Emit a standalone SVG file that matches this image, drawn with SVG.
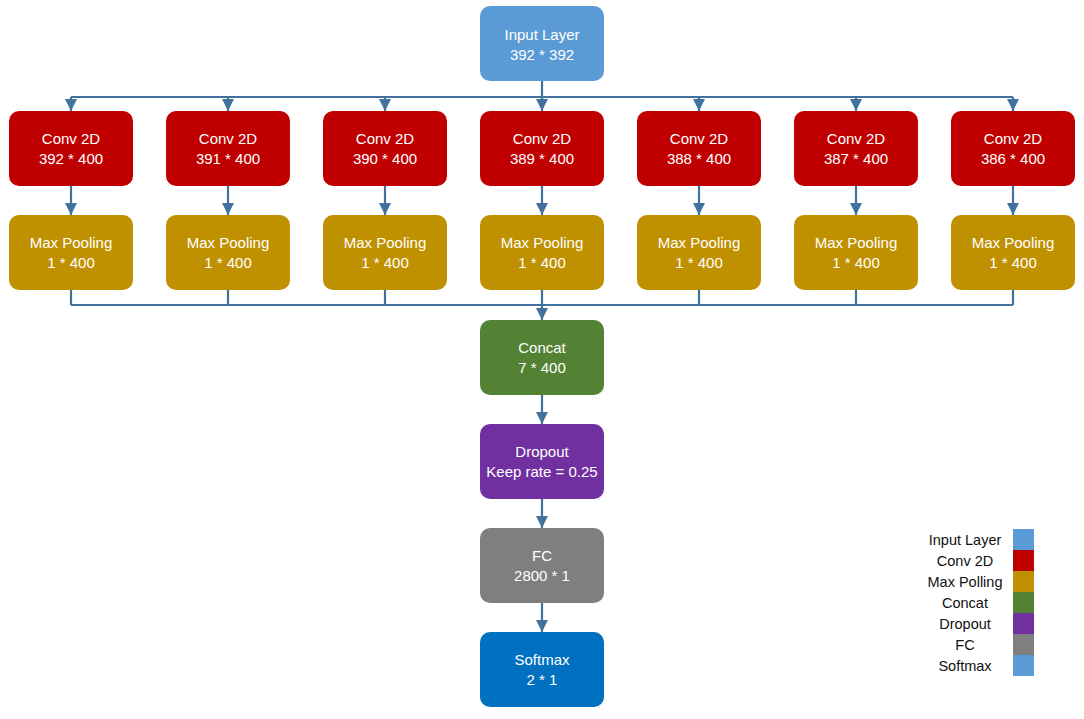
<svg xmlns="http://www.w3.org/2000/svg" width="1084" height="719" viewBox="0 0 1084 719">
<style>
.box{stroke:none}
.t{font-family:"Liberation Sans",Arial,sans-serif;font-size:15px;fill:#ffffff;text-anchor:middle}
.lg{font-family:"Liberation Sans",Arial,sans-serif;font-size:14.5px;fill:#111111;text-anchor:middle}
.c{stroke:#41719C;stroke-width:2.2;fill:none}
.a{stroke:#41719C;stroke-width:2.2;fill:none;marker-end:url(#ah)}
.in{fill:#5B9BD5}.cv{fill:#C00000}.mp{fill:#BF9000}.cc{fill:#548235}.dr{fill:#7030A0}.fc{fill:#7F7F7F}.sm{fill:#0070C0}
</style>
<defs>
<marker id="ah" viewBox="0 0 10 10" refX="10" refY="5" markerWidth="5.5" markerHeight="5.5" markerUnits="strokeWidth" orient="auto">
<path d="M0,0 L10,5 L0,10 z" fill="#41719C"/>
</marker>
</defs>
<rect width="1084" height="719" fill="#ffffff"/>
<g id="connectors">
<path class="c" d="M542,81 V97"/>
<path class="c" d="M71,97 H1013"/>
<path class="a" d="M71,97 V111"/>
<path class="a" d="M228,97 V111"/>
<path class="a" d="M385,97 V111"/>
<path class="a" d="M542,97 V111"/>
<path class="a" d="M699,97 V111"/>
<path class="a" d="M856,97 V111"/>
<path class="a" d="M1013,97 V111"/>
<path class="a" d="M71,186 V215"/>
<path class="a" d="M228,186 V215"/>
<path class="a" d="M385,186 V215"/>
<path class="a" d="M542,186 V215"/>
<path class="a" d="M699,186 V215"/>
<path class="a" d="M856,186 V215"/>
<path class="a" d="M1013,186 V215"/>
<path class="c" d="M71,290 V305 M228,290 V305 M385,290 V305 M542,290 V305 M699,290 V305 M856,290 V305 M1013,290 V305"/>
<path class="c" d="M71,305 H1013"/>
<path class="a" d="M542,305 V320"/>
<path class="a" d="M542,395 V424"/>
<path class="a" d="M542,499 V528"/>
<path class="a" d="M542,603 V632"/>
</g>
<g id="input"><rect class="box in" x="480" y="6" width="124" height="75" rx="10"/><text class="t" x="542" y="40">Input Layer</text><text class="t" x="542" y="60">392 * 392</text></g>
<g id="conv1"><rect class="box cv" x="9" y="111" width="124" height="75" rx="10"/><text class="t" x="71" y="144">Conv 2D</text><text class="t" x="71" y="164">392 * 400</text></g>
<g id="conv2"><rect class="box cv" x="166" y="111" width="124" height="75" rx="10"/><text class="t" x="228" y="144">Conv 2D</text><text class="t" x="228" y="164">391 * 400</text></g>
<g id="conv3"><rect class="box cv" x="323" y="111" width="124" height="75" rx="10"/><text class="t" x="385" y="144">Conv 2D</text><text class="t" x="385" y="164">390 * 400</text></g>
<g id="conv4"><rect class="box cv" x="480" y="111" width="124" height="75" rx="10"/><text class="t" x="542" y="144">Conv 2D</text><text class="t" x="542" y="164">389 * 400</text></g>
<g id="conv5"><rect class="box cv" x="637" y="111" width="124" height="75" rx="10"/><text class="t" x="699" y="144">Conv 2D</text><text class="t" x="699" y="164">388 * 400</text></g>
<g id="conv6"><rect class="box cv" x="794" y="111" width="124" height="75" rx="10"/><text class="t" x="856" y="144">Conv 2D</text><text class="t" x="856" y="164">387 * 400</text></g>
<g id="conv7"><rect class="box cv" x="951" y="111" width="124" height="75" rx="10"/><text class="t" x="1013" y="144">Conv 2D</text><text class="t" x="1013" y="164">386 * 400</text></g>
<g id="pool1"><rect class="box mp" x="9" y="215" width="124" height="75" rx="10"/><text class="t" x="71" y="248">Max Pooling</text><text class="t" x="71" y="268">1 * 400</text></g>
<g id="pool2"><rect class="box mp" x="166" y="215" width="124" height="75" rx="10"/><text class="t" x="228" y="248">Max Pooling</text><text class="t" x="228" y="268">1 * 400</text></g>
<g id="pool3"><rect class="box mp" x="323" y="215" width="124" height="75" rx="10"/><text class="t" x="385" y="248">Max Pooling</text><text class="t" x="385" y="268">1 * 400</text></g>
<g id="pool4"><rect class="box mp" x="480" y="215" width="124" height="75" rx="10"/><text class="t" x="542" y="248">Max Pooling</text><text class="t" x="542" y="268">1 * 400</text></g>
<g id="pool5"><rect class="box mp" x="637" y="215" width="124" height="75" rx="10"/><text class="t" x="699" y="248">Max Pooling</text><text class="t" x="699" y="268">1 * 400</text></g>
<g id="pool6"><rect class="box mp" x="794" y="215" width="124" height="75" rx="10"/><text class="t" x="856" y="248">Max Pooling</text><text class="t" x="856" y="268">1 * 400</text></g>
<g id="pool7"><rect class="box mp" x="951" y="215" width="124" height="75" rx="10"/><text class="t" x="1013" y="248">Max Pooling</text><text class="t" x="1013" y="268">1 * 400</text></g>
<g id="concat"><rect class="box cc" x="480" y="320" width="124" height="75" rx="10"/><text class="t" x="542" y="353">Concat</text><text class="t" x="542" y="373">7 * 400</text></g>
<g id="dropout"><rect class="box dr" x="480" y="424" width="124" height="75" rx="10"/><text class="t" x="542" y="457">Dropout</text><text class="t" x="542" y="477">Keep rate = 0.25</text></g>
<g id="fc"><rect class="box fc" x="480" y="528" width="124" height="75" rx="10"/><text class="t" x="542" y="561">FC</text><text class="t" x="542" y="581">2800 * 1</text></g>
<g id="softmax"><rect class="box sm" x="480" y="632" width="124" height="75" rx="10"/><text class="t" x="542" y="665">Softmax</text><text class="t" x="542" y="685">2 * 1</text></g>
<g id="legend">
<rect class="in" x="1013" y="529" width="21" height="21"/>
<rect class="cv" x="1013" y="550" width="21" height="21"/>
<rect class="mp" x="1013" y="571" width="21" height="21"/>
<rect class="cc" x="1013" y="592" width="21" height="21"/>
<rect class="dr" x="1013" y="613" width="21" height="21"/>
<rect class="fc" x="1013" y="634" width="21" height="21"/>
<rect class="in" x="1013" y="655" width="21" height="21"/>
<text class="lg" x="965" y="545">Input Layer</text>
<text class="lg" x="965" y="566">Conv 2D</text>
<text class="lg" x="965" y="587">Max Polling</text>
<text class="lg" x="965" y="608">Concat</text>
<text class="lg" x="965" y="629">Dropout</text>
<text class="lg" x="965" y="650">FC</text>
<text class="lg" x="965" y="671">Softmax</text>
</g>
</svg>
